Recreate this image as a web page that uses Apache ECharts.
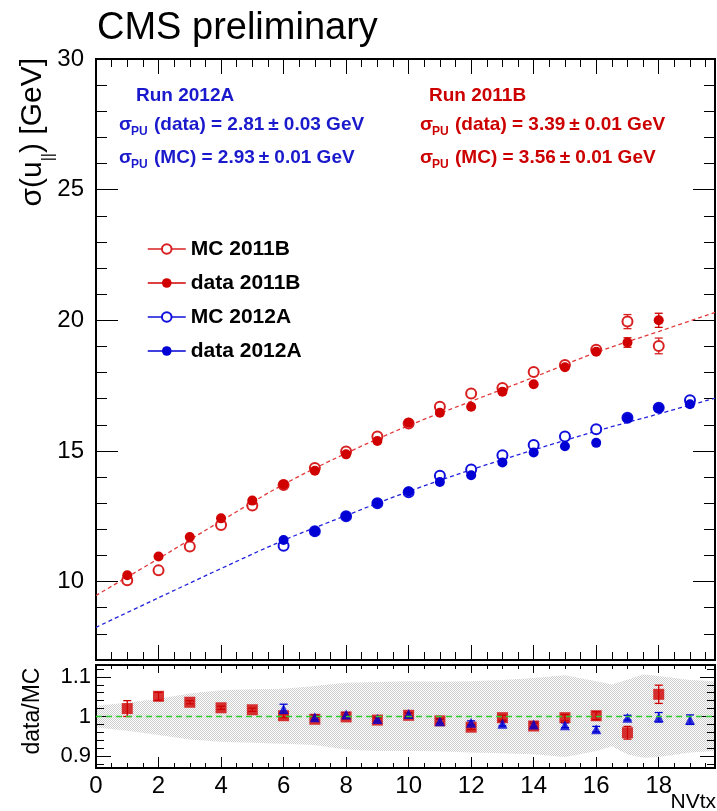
<!DOCTYPE html>
<html><head><meta charset="utf-8">
<script src="https://cdn.jsdelivr.net/npm/echarts@6/dist/echarts.min.js"></script>
<style>html,body{margin:0;padding:0;background:#fff}#c{width:717px;height:811px}</style>
</head><body><div id="c"></div>
<script>
// ---------------- data ----------------
const nvtx2011 = [1,2,3,4,5,6,7,8,9,10,11,12,13,14,15,16,17,18];
const mc2011   = [10.05,10.43,11.34,12.17,12.91,13.70,14.35,14.98,15.55,16.05,16.69,17.20,17.41,18.02,18.29,18.87,19.95,19.02];
const mc2011Err   = [0,0,0,0,0,0,0,0,0,0,0,0,0,0,0,0.06,0.27,0.30];
const data2011 = [10.24,10.96,11.71,12.42,13.10,13.72,14.24,14.87,15.38,16.08,16.46,16.69,17.27,17.55,18.20,18.80,19.15,20.00];
const data2011Err = [0,0,0,0,0,0,0,0,0,0,0,0,0,0,0,0.08,0.18,0.27];

const nvtx2012 = [6,7,8,9,10,11,12,13,14,15,16,17,18,19];
const mc2012   = [11.37,11.93,12.50,13.00,13.42,14.05,14.29,14.84,15.23,15.55,15.83,16.27,16.65,16.94];
const mc2012Err   = [0,0,0,0,0,0,0,0,0,0,0,0,0,0.08];
const data2012 = [11.59,11.93,12.50,13.01,13.45,13.81,14.07,14.56,14.94,15.18,15.31,16.25,16.64,16.79];
const data2012Err = [0,0,0,0,0,0,0,0,0,0,0,0,0,0.10];

// fitted curves
const fitX    = [0,2,4,6,8,10,12,14,16,18,19.8];
const fit2011 = [9.47,10.88,12.32,13.72,14.91,15.97,16.90,17.82,18.77,19.57,20.30];
const fit2012 = [8.25,9.38,10.50,11.58,12.53,13.45,14.28,15.04,15.76,16.42,17.02];

// ratio panel
const ratio2011    = [1.020,1.051,1.036,1.022,1.017,1.002,0.993,0.999,0.991,1.003,0.989,0.973,0.997,0.976,0.997,1.002,0.959,1.056];
const ratio2011Err = [0.020,0.010,0.004,0.004,0.004,0.005,0.005,0.005,0.005,0.005,0.006,0.006,0.006,0.006,0.008,0.010,0.016,0.023];
const ratio2012    = [1.019,0.998,1.005,0.994,1.006,0.988,0.984,0.982,0.980,0.978,0.968,0.997,0.998,0.992];
const ratio2012Err = [0.012,0.006,0.005,0.005,0.004,0.005,0.005,0.006,0.006,0.006,0.007,0.006,0.012,0.012];

const bandX     = [0,1,2,3,4,5,6,7,8,9,10,11,12,13,14,15,16,16.5,17,17.5,18,19,19.8];
const bandUpper = [1.027,1.035,1.045,1.058,1.066,1.069,1.070,1.077,1.085,1.087,1.089,1.088,1.089,1.092,1.097,1.104,1.089,1.081,1.093,1.106,1.102,1.092,1.089];
const bandLower = [0.972,0.964,0.953,0.942,0.936,0.934,0.931,0.928,0.917,0.913,0.913,0.912,0.909,0.907,0.905,0.898,0.913,0.925,0.905,0.896,0.898,0.909,0.913];

const unityX = [0, 19.8];
const unityY = [1, 1];

// axis ticks / labels
const X_MIN = 0, X_MAX = 19.8;
const xMajor = [0,2,4,6,8,10,12,14,16,18];
const Y_MIN = 7, Y_MAX = 30;
const yMajor = [10,15,20,25,30];
const R_MIN = 0.87, R_MAX = 1.13;
const rMajor = [0.9,1.0,1.1];
const rMinor = [0.88,0.90,0.92,0.94,0.96,0.98,1.00,1.02,1.04,1.06,1.08,1.10,1.12];

// ---------------- styling ----------------
const FONT = '"Liberation Sans", Arial, Helvetica, sans-serif';
const RED = '#d00000', RED_MC = '#d82020', RED_FIT = '#e23a3a', RED_T = '#cc0000';
const BLUE = '#0000d4', BLUE_MC = '#1010dd', BLUE_FIT = '#2222dd', BLUE_T = '#1a1acc';
const GREEN = '#2ecc2e';

const zip = (a, b) => a.map((v, i) => [v, b[i]]);
const zip3 = (a, b, c) => a.map((v, i) => [v, b[i], c[i]]);

function ax(extra) {
  return Object.assign({
    type: 'value', splitLine: {show: false},
    axisLine: {show: true, onZero: false, lineStyle: {color: '#000', width: 2}},
    axisTick: {show: false}, axisLabel: {show: false},
    minorTick: {show: false}, minorSplitLine: {show: false}
  }, extra);
}
function tk(len, custom) {
  const t = {show: true, inside: true, length: len, lineStyle: {color: '#000', width: 1}};
  if (custom) t.customValues = custom;
  return t;
}

const xAxis = [
  // main panel
  ax({gridIndex: 0, position: 'bottom', min: X_MIN, max: X_MAX, interval: 0.5, axisTick: tk(8)}),
  ax({gridIndex: 0, position: 'bottom', min: X_MIN, max: X_MAX, axisTick: tk(15, xMajor)}),
  ax({gridIndex: 0, position: 'top', min: X_MIN, max: X_MAX, interval: 0.5, axisTick: tk(8)}),
  ax({gridIndex: 0, position: 'top', min: X_MIN, max: X_MAX, axisTick: tk(15, xMajor)}),
  // ratio panel
  ax({gridIndex: 1, position: 'bottom', min: X_MIN, max: X_MAX, interval: 0.5, axisTick: tk(5),
      axisLabel: {show: true, customValues: xMajor, fontSize: 24, fontFamily: FONT, color: '#000', margin: 6}}),
  ax({gridIndex: 1, position: 'bottom', min: X_MIN, max: X_MAX, axisTick: tk(11, xMajor)}),
  ax({gridIndex: 1, position: 'top', min: X_MIN, max: X_MAX, interval: 0.5, axisTick: tk(4)}),
  ax({gridIndex: 1, position: 'top', min: X_MIN, max: X_MAX, axisTick: tk(8, xMajor)})
];
const yAxis = [
  ax({gridIndex: 0, position: 'left', min: Y_MIN, max: Y_MAX, interval: 1, axisTick: tk(11)}),
  ax({gridIndex: 0, position: 'left', min: Y_MIN, max: Y_MAX, axisTick: tk(22, yMajor),
      axisLabel: {show: true, customValues: yMajor, fontSize: 24, fontFamily: FONT, color: '#000', margin: 12}}),
  ax({gridIndex: 0, position: 'right', min: Y_MIN, max: Y_MAX, interval: 1, axisTick: tk(11)}),
  ax({gridIndex: 0, position: 'right', min: Y_MIN, max: Y_MAX, axisTick: tk(22, yMajor)}),
  ax({gridIndex: 1, position: 'left', min: R_MIN, max: R_MAX, axisTick: tk(8, rMinor)}),
  ax({gridIndex: 1, position: 'left', min: R_MIN, max: R_MAX, axisTick: tk(15, rMajor),
      axisLabel: {show: true, customValues: rMajor, fontSize: 22, fontFamily: FONT, color: '#000', margin: 5}}),
  ax({gridIndex: 1, position: 'right', min: R_MIN, max: R_MAX, axisTick: tk(8, rMinor)}),
  ax({gridIndex: 1, position: 'right', min: R_MIN, max: R_MAX, axisTick: tk(15, rMajor)})
];

function errSeries(xs, ys, es, color, xi, yi, cap) {
  return {
    type: 'custom', xAxisIndex: xi, yAxisIndex: yi, silent: true, z: 2,
    encode: {x: 0, y: 1},
    data: zip3(xs, ys, es),
    renderItem: function (params, api) {
      const x = api.value(0), y = api.value(1), e = api.value(2);
      if (!(e > 0)) return null;
      const p1 = api.coord([x, y + e]), p2 = api.coord([x, y - e]);
      const st = {stroke: color, lineWidth: 1.3};
      return {type: 'group', children: [
        {type: 'line', shape: {x1: p1[0], y1: p1[1], x2: p2[0], y2: p2[1]}, style: st},
        {type: 'line', shape: {x1: p1[0] - cap, y1: p1[1], x2: p1[0] + cap, y2: p1[1]}, style: st},
        {type: 'line', shape: {x1: p2[0] - cap, y1: p2[1], x2: p2[0] + cap, y2: p2[1]}, style: st}
      ]};
    }
  };
}

// stipple pattern for the uncertainty band
const pat = document.createElement('canvas');
pat.width = 2; pat.height = 2;
(function () {
  const c = pat.getContext('2d');
  c.fillStyle = '#ffffff'; c.fillRect(0, 0, 2, 2);
  c.fillStyle = '#cdcdcd'; c.fillRect(0, 0, 1, 1); c.fillRect(1, 1, 1, 1);
})();

const bandSeries = {
  type: 'custom', xAxisIndex: 4, yAxisIndex: 4, silent: true, z: 0,
  encode: {x: 0, y: 1},
  data: [[bandX[0], bandUpper[0]]],
  renderItem: function (params, api) {
    const pts = [];
    for (let i = 0; i < bandX.length; i++) pts.push(api.coord([bandX[i], bandUpper[i]]));
    for (let i = bandX.length - 1; i >= 0; i--) pts.push(api.coord([bandX[i], bandLower[i]]));
    return {type: 'polygon', shape: {points: pts}, style: {fill: {image: pat, repeat: 'repeat'}, stroke: null}};
  }
};

const series = [
  // fits
  {type: 'line', xAxisIndex: 0, yAxisIndex: 0, data: zip(fitX, fit2011), smooth: 0.35, symbol: 'none', silent: true, z: 1,
   lineStyle: {color: RED_FIT, width: 1.3, type: [4, 3]}},
  {type: 'line', xAxisIndex: 0, yAxisIndex: 0, data: zip(fitX, fit2012), smooth: 0.35, symbol: 'none', silent: true, z: 1,
   lineStyle: {color: BLUE_FIT, width: 1.3, type: [4, 3]}},
  // error bars main
  errSeries(nvtx2011, mc2011, mc2011Err, RED_MC, 0, 0, 4),
  errSeries(nvtx2011, data2011, data2011Err, RED, 0, 0, 4),
  errSeries(nvtx2012, mc2012, mc2012Err, BLUE_MC, 0, 0, 4),
  errSeries(nvtx2012, data2012, data2012Err, BLUE, 0, 0, 4),
  // points main
  {name: 'MC 2011B', type: 'line', xAxisIndex: 0, yAxisIndex: 0, data: zip(nvtx2011, mc2011), z: 3,
   symbol: 'emptyCircle', symbolSize: 10, showSymbol: true,
   lineStyle: {opacity: 0, color: RED_MC, width: 1.5}, itemStyle: {color: RED_MC, borderWidth: 1.6}},
  {name: 'data 2011B', type: 'line', xAxisIndex: 0, yAxisIndex: 0, data: zip(nvtx2011, data2011), z: 4,
   symbol: 'circle', symbolSize: 10, showSymbol: true,
   lineStyle: {opacity: 0, color: RED, width: 1.5}, itemStyle: {color: RED}},
  {name: 'MC 2012A', type: 'line', xAxisIndex: 0, yAxisIndex: 0, data: zip(nvtx2012, mc2012), z: 3,
   symbol: 'emptyCircle', symbolSize: 10, showSymbol: true,
   lineStyle: {opacity: 0, color: BLUE_MC, width: 1.5}, itemStyle: {color: BLUE_MC, borderWidth: 1.6}},
  {name: 'data 2012A', type: 'line', xAxisIndex: 0, yAxisIndex: 0, data: zip(nvtx2012, data2012), z: 4,
   symbol: 'circle', symbolSize: 10, showSymbol: true,
   lineStyle: {opacity: 0, color: BLUE, width: 1.5}, itemStyle: {color: BLUE}},
  // ratio band
  bandSeries,
  // ratio points
  errSeries(nvtx2011, ratio2011, ratio2011Err, RED, 4, 4, 4),
  {type: 'scatter', xAxisIndex: 4, yAxisIndex: 4, data: zip(nvtx2011, ratio2011), symbol: 'rect', symbolSize: 11, z: 3,
   itemStyle: {color: RED}},
  errSeries(nvtx2012, ratio2012, ratio2012Err, BLUE, 4, 4, 4),
  {type: 'scatter', xAxisIndex: 4, yAxisIndex: 4, data: zip(nvtx2012, ratio2012), symbol: 'triangle', symbolSize: 10, z: 4,
   itemStyle: {color: BLUE}},
  // unity line
  {type: 'line', xAxisIndex: 4, yAxisIndex: 4, data: zip(unityX, unityY), symbol: 'none', silent: true, z: 6,
   lineStyle: {color: GREEN, width: 1.5, type: [6, 4]}}
];

function txt(x, y, text, size, color, weight, align, extra) {
  return Object.assign({
    type: 'text', x: x, y: y, silent: true, z: 100,
    style: {text: text, fill: color, font: (weight || 'normal') + ' ' + size + 'px ' + FONT,
            textAlign: align || 'left', textVerticalAlign: 'middle', align: align || 'left', verticalAlign: 'middle'}
  }, extra || {});
}

const graphic = [
  txt(97, 29, 'CMS preliminary', 38, '#000', 'normal'),
  // blue block
  txt(136, 96, 'Run 2012A', 19, BLUE_T, 'bold'),
  txt(119, 125, 'σ', 19, BLUE_T, 'bold'),
  txt(131, 132, 'PU', 12, BLUE_T, 'bold'),
  txt(154, 125, '(data) = 2.81\u2009± 0.03 GeV', 19, BLUE_T, 'bold'),
  txt(119, 158, 'σ', 19, BLUE_T, 'bold'),
  txt(131, 165, 'PU', 12, BLUE_T, 'bold'),
  txt(154, 158, '(MC) = 2.93\u2009± 0.01 GeV', 19, BLUE_T, 'bold'),
  // red block
  txt(429, 96, 'Run 2011B', 19, RED_T, 'bold'),
  txt(420, 125, 'σ', 19, RED_T, 'bold'),
  txt(432, 132, 'PU', 12, RED_T, 'bold'),
  txt(455, 125, '(data) = 3.39\u2009± 0.01 GeV', 19, RED_T, 'bold'),
  txt(420, 158, 'σ', 19, RED_T, 'bold'),
  txt(432, 165, 'PU', 12, RED_T, 'bold'),
  txt(455, 158, '(MC) = 3.56\u2009± 0.01 GeV', 19, RED_T, 'bold'),
  // axis titles
  {type: 'text', x: 37, y: 58, rotation: Math.PI / 2, silent: true, z: 100,
   style: {text: '{a|σ(u}{s|||}{a|) [GeV]}', textAlign: 'right', align: 'right', textVerticalAlign: 'middle', verticalAlign: 'middle',
           rich: {a: {fontSize: 30, fontFamily: FONT, fill: '#000', color: '#000', lineHeight: 39, verticalAlign: 'top'},
                  s: {fontSize: 16, fontFamily: FONT, fill: '#000', color: '#000', lineHeight: 16, verticalAlign: 'bottom'}}}},
  {type: 'text', x: 33, y: 711, rotation: Math.PI / 2, silent: true, z: 100,
   style: {text: 'data/MC', font: '23px ' + FONT, fill: '#000', textAlign: 'center', align: 'center',
           textVerticalAlign: 'middle', verticalAlign: 'middle'}},
  txt(716, 802, 'NVtx', 21, '#000', 'normal', 'right')
];

const chart = echarts.init(document.getElementById('c'), null, {renderer: 'canvas'});
chart.setOption({
  animation: false,
  backgroundColor: '#fff',
  grid: [
    {left: 96, top: 59, width: 619, height: 601, containLabel: false, outerBoundsMode: 'none'},
    {left: 96, top: 665, width: 619, height: 103, containLabel: false, outerBoundsMode: 'none'}
  ],
  xAxis: xAxis,
  yAxis: yAxis,
  legend: {
    data: ['MC 2011B', 'data 2011B', 'MC 2012A', 'data 2012A'],
    orient: 'vertical', left: 147, top: 237, padding: 0,
    itemWidth: 38, itemHeight: 12, itemGap: 10, selectedMode: false,
    textStyle: {fontSize: 21, fontWeight: 'bold', fontFamily: FONT, color: '#000', lineHeight: 24},
    lineStyle: {opacity: 1, width: 1.5}
  },
  series: series,
  graphic: graphic
});
</script></body></html>
